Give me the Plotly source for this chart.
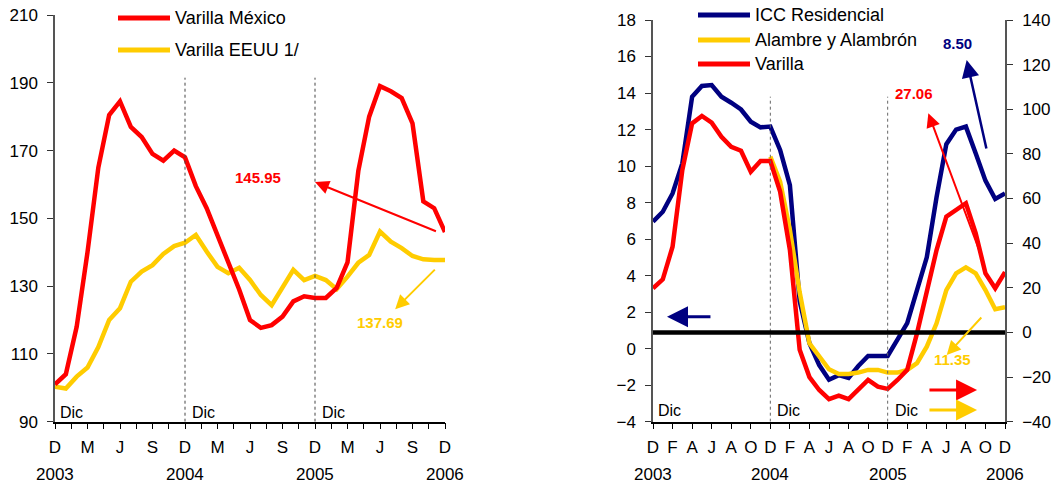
import plotly.graph_objects as go

# the page body has an 8px margin, so the figure is drawn 8px smaller and coordinates shifted
OFF = 8
W, H = 1059 - OFF, 485 - OFF
FONT = "Arial, Liberation Sans, sans-serif"
RED, YEL, NAVY = "#FF0000", "#FFCC00", "#000080"

# months from Dec 2003 (0) to Dec 2006 (36)
months = list(range(37))

# left chart: index levels
varilla_mex = [101, 104, 118, 140, 165, 180.5, 184.5, 177, 174, 169, 167, 170, 168,
               159.5, 153, 145, 137, 129, 120, 117.7, 118.5, 121, 125.5, 127, 126.5,
               126.5, 129.5, 137, 164, 180, 189, 187.5, 185.5, 178, 155, 153, 145.95]
varilla_eeuu = [100.3, 99.8, 103.3, 106, 112, 120, 123.5, 131.3, 134.3, 136.2, 139.5, 141.8, 142.8,
                145.1, 140.2, 135.7, 133.8, 135.4, 131.8, 127.4, 124.4, 129.8, 134.8, 131.8, 133,
                131.8, 129.1, 132.8, 136.9, 139.2, 146.1, 143.1, 141.2, 138.9, 137.9, 137.7, 137.69]

# right chart: annual variations
icc_res = [6.96, 7.5, 8.5, 10.15, 13.8, 14.39, 14.44, 13.8, 13.47, 13.1, 12.43, 12.12, 12.16,
           10.88, 8.96, 2.6, 0.3, -0.9, -1.7, -1.45, -1.6, -0.95, -0.4, -0.4, -0.4,
           0.5, 1.4, 3.2, 5.0, 8.3, 11.2, 12.0, 12.16, 10.7, 9.2, 8.2, 8.5]
alambre = [None] * 12 + [78.8, 67.6, 46, 18, -4.9, -10.8, -16.5, -18.6, -18.6, -18, -16.8, -16.8, -18,
                         -18, -16.8, -13.8, -6.4, 4.1, 19, 26.5, 29.2, 26.5, 19, 10.4, 11.35]
varilla = [19.8, 23.8, 38.4, 72.8, 93.7, 97, 94, 87.7, 83.2, 81.4, 72, 76.8, 76.8,
           63.1, 37, -7.8, -20, -25.8, -29.9, -28.3, -29.9, -25.8, -21.3, -24.3, -25.3,
           -21.3, -16.8, -0.4, 17.6, 36.9, 51.9, 54.9, 57.9, 44.5, 26.5, 19.8, 27.06]

left_ticks = [0, 3, 6, 9, 12, 15, 18, 21, 24, 27, 30, 33, 36]
left_labels = ["D", "M", "J", "S"] * 3 + ["D"]
right_ticks = list(range(0, 37, 2))
right_labels = ["D", "F", "A", "J", "A", "O"] * 3 + ["D"]
years = ["2003", "2004", "2005", "2006"]


def px(x):
    return (x - OFF) / W


def py(y):
    return 1 - (y - OFF) / H


fig = go.Figure()
fig.add_trace(go.Scatter(x=months, y=varilla_eeuu, mode="lines", line=dict(color=YEL, width=4.5)))
fig.add_trace(go.Scatter(x=months, y=varilla_mex, mode="lines", line=dict(color=RED, width=4.5)))
fig.add_trace(go.Scatter(x=months, y=icc_res, mode="lines", line=dict(color=NAVY, width=4.5),
                         xaxis="x2", yaxis="y2"))
fig.add_trace(go.Scatter(x=months, y=alambre, mode="lines", line=dict(color=YEL, width=4.5),
                         xaxis="x2", yaxis="y3"))
fig.add_trace(go.Scatter(x=months, y=varilla, mode="lines", line=dict(color=RED, width=4.5),
                         xaxis="x2", yaxis="y3"))

tickfont = dict(family=FONT, size=17, color="black")
xcommon = dict(range=[0, 36], showgrid=False, zeroline=False, showline=True, linecolor="black",
               linewidth=1.5, ticks="outside", ticklen=6, tickcolor="black", tickfont=tickfont,
               ticklabelstandoff=3, tickmode="array", automargin=False, ticklabeloverflow="allow")
ycommon = dict(showgrid=False, zeroline=False, showline=True, linecolor="#555", linewidth=1.5,
               ticks="outside", ticklen=6, tickcolor="#333", tickfont=tickfont, ticklabelstandoff=6,
               automargin=False, ticklabeloverflow="allow")

fig.update_layout(
    width=W, height=H, margin=dict(l=0, r=0, t=0, b=0),
    paper_bgcolor="white", plot_bgcolor="white", showlegend=False,
    xaxis=dict(xcommon, domain=[px(55), px(445)], anchor="y", tickvals=left_ticks, ticktext=left_labels,
               minor=dict(tickmode="array", tickvals=[v + 1.5 for v in left_ticks[:-1]],
                          ticks="outside", ticklen=6, tickcolor="black")),
    yaxis=dict(ycommon, domain=[py(421.7), py(15)], range=[90, 210], tick0=90, dtick=20, anchor="x"),
    xaxis2=dict(xcommon, domain=[px(653), px(1005)], anchor="y2", tickvals=right_ticks,
                ticktext=right_labels),
    yaxis2=dict(ycommon, domain=[py(421.7), py(20)], range=[-4, 18], dtick=2, anchor="x2"),
    yaxis3=dict(ycommon, range=[-40, 140], dtick=20, anchor="x2", overlaying="y2", side="right"),
)

shapes = []
# dotted December markers
for m in (12, 24):
    shapes.append(dict(type="line", xref="x", yref="y", x0=m, x1=m, y0=90, y1=191.5,
                       line=dict(color="#444", width=1, dash="dot")))
    shapes.append(dict(type="line", xref="x2", yref="y2", x0=m, x1=m, y0=-4, y1=13.8,
                       line=dict(color="#666", width=1, dash="dot")))
# zero line of right axis
shapes.append(dict(type="line", xref="x2 domain", yref="y3", x0=0, x1=1, y0=0, y1=0,
                   line=dict(color="black", width=4.5)))

# legends drawn by hand
legend_items = [(118, 170, 18, RED, "Varilla México"), (118, 170, 50, YEL, "Varilla EEUU 1/"),
                (698, 750, 15, NAVY, "ICC Residencial"), (698, 750, 40, YEL, "Alambre y Alambrón"),
                (698, 750, 64, RED, "Varilla")]
annotations = []
for x0, x1, yy, col, name in legend_items:
    shapes.append(dict(type="line", xref="paper", yref="paper", x0=px(x0), x1=px(x1), y0=py(yy), y1=py(yy),
                       line=dict(color=col, width=5)))
    annotations.append(dict(xref="paper", yref="paper", x=px(x1 + 3), y=py(yy), text=name, showarrow=False,
                            xanchor="left", yanchor="middle", font=dict(family=FONT, size=18, color="black")))

fig.update_layout(shapes=shapes)

# year labels under the December ticks
for i, yr in enumerate(years):
    for xr in ("x", "x2"):
        annotations.append(dict(xref=xr, yref="paper", x=12 * i, y=py(474), text=yr, showarrow=False,
                                xanchor="center", yanchor="middle", font=dict(family=FONT, size=17, color="black")))

# "Dic" labels
dicfont = dict(family=FONT, size=16, color="black")
for m, sh in ((0, 3), (12, 5), (24, 5)):
    annotations.append(dict(xref="x", yref="y", x=m, y=92.7, xshift=sh, text="Dic", showarrow=False,
                            xanchor="left", yanchor="middle", font=dicfont))
    annotations.append(dict(xref="x2", yref="y2", x=m, y=-3.36, xshift=sh, text="Dic", showarrow=False,
                            xanchor="left", yanchor="middle", font=dicfont))

# value labels
def label(xr, yr, x, y, text, col):
    annotations.append(dict(xref=xr, yref=yr, x=x, y=y, text="<b>%s</b>" % text, showarrow=False,
                            font=dict(family=FONT, size=15, color=col)))


def arrow(xr, yr, x, y, ax, ay, col, w=2):
    annotations.append(dict(xref=xr, yref=yr, axref=xr, ayref=yr, x=x, y=y, ax=ax, ay=ay, text="",
                            showarrow=True, arrowhead=2, arrowsize=1.4, arrowwidth=w, arrowcolor=col,
                            standoff=0, startstandoff=0))


label("x", "y", 18.74, 162.2, "145.95", RED)
arrow("x", "y", 24.0, 160.7, 35.3, 146.0, RED)
label("x", "y", 30.0, 119.4, "137.69", YEL)
arrow("x", "y", 31.4, 123.2, 35.2, 135.3, YEL)

label("x2", "y2", 31.1, 16.74, "8.50", NAVY)
arrow("x2", "y2", 32.08, 15.81, 34.13, 10.88, NAVY, 2.5)
label("x2", "y2", 26.7, 13.99, "27.06", RED)
arrow("x2", "y2", 28.16, 12.89, 33.54, 5.13, RED)
label("x2", "y2", 30.6, -0.62, "11.35", YEL)
arrow("x2", "y2", 30.04, -0.35, 33.72, 1.79, YEL)
arrow("x2", "y2", 1.43, 1.75, 6.03, 1.75, NAVY, 3)
arrow("x2", "y2", 33.14, -2.26, 28.12, -2.26, RED, 3)
arrow("x2", "y2", 33.14, -3.36, 28.12, -3.36, YEL, 3)

fig.update_layout(annotations=annotations)
fig.write_html("out.html")
